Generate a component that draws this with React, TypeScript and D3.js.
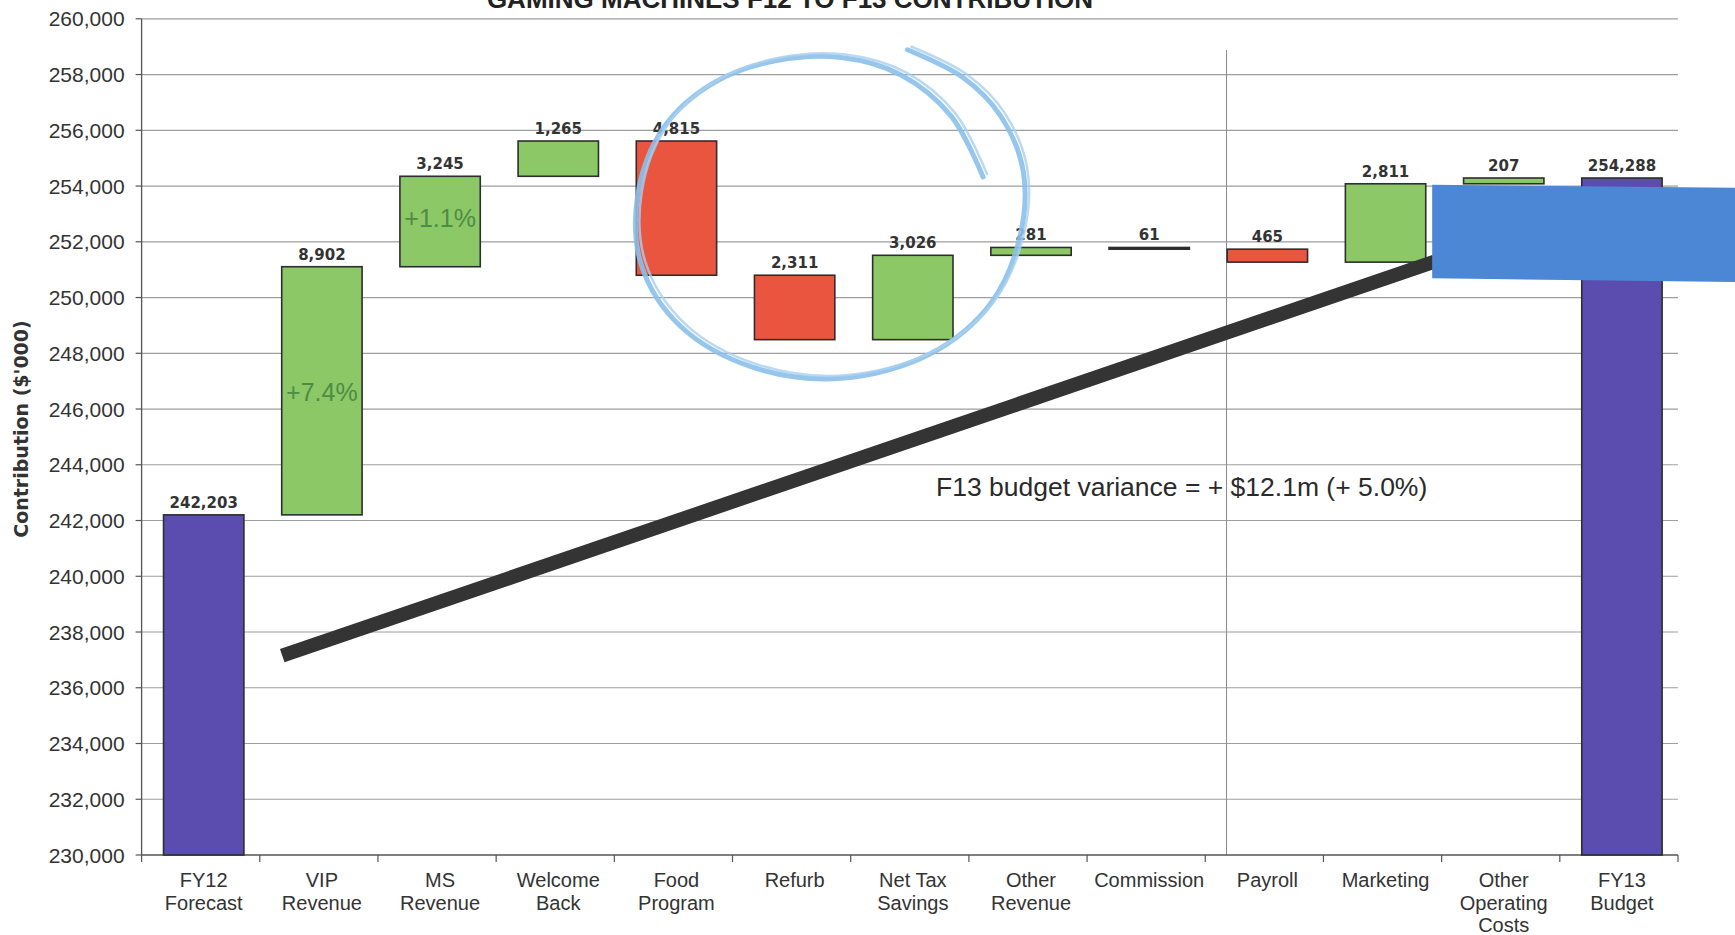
import { useMemo } from 'react';
import * as d3 from 'd3';

// Waterfall steps ($'000)
const CATEGORIES = [
  ['FY12', 'Forecast'],
  ['VIP', 'Revenue'],
  ['MS', 'Revenue'],
  ['Welcome', 'Back'],
  ['Food', 'Program'],
  ['Refurb'],
  ['Net Tax', 'Savings'],
  ['Other', 'Revenue'],
  ['Commission'],
  ['Payroll'],
  ['Marketing'],
  ['Other', 'Operating', 'Costs'],
  ['FY13', 'Budget'],
];
const STEP_VALUES = [242203, 8902, 3245, 1265, -4815, -2311, 3026, 281, -61, -465, 2811, 207, 254288];
const STEP_KINDS = ['total', 'delta', 'delta', 'delta', 'delta', 'delta', 'delta', 'delta', 'delta', 'delta', 'delta', 'delta', 'total'];
const Y_TICKS = d3.range(230000, 260001, 2000);

// Annotations, in chart units (t = category slots from the axis, value = $'000)
const PCT_NOTES = [
  { cat: 1, value: 246600, text: '+7.4%' },
  { cat: 2, value: 252870, text: '+1.1%' },
];
const VARIANCE_NOTE = { t: 8.8, value: 242880, text: 'F13 budget variance = + $12.1m (+ 5.0%)' };
const TREND_STROKE = [
  { t: 1.19, value: 237150 },
  { t: 10.94, value: 251290 },
];
const DIVIDER = { t: 9.18, from: 258880, to: 230000 };
const HIGHLIGHT = [
  { t: 10.92, value: 254045 },
  { t: 13.5, value: 253940 },
  { t: 13.5, value: 250560 },
  { t: 10.92, value: 250690 },
];
const CIRCLE_STROKE = [
  { t: 7.12, value: 254325 },
  { t: 6.85, value: 256508 },
  { t: 6.43, value: 257976 },
  { t: 5.92, value: 258611 },
  { t: 5.36, value: 258492 },
  { t: 4.84, value: 257698 },
  { t: 4.42, value: 256111 },
  { t: 4.2, value: 253730 },
  { t: 4.23, value: 251151 },
  { t: 4.56, value: 248968 },
  { t: 5.17, value: 247500 },
  { t: 5.92, value: 247103 },
  { t: 6.67, value: 247976 },
  { t: 7.18, value: 249762 },
  { t: 7.43, value: 252143 },
  { t: 7.46, value: 254524 },
  { t: 7.27, value: 256508 },
  { t: 6.95, value: 257897 },
  { t: 6.48, value: 258889 },
];

const WIDTH = 1735;
const HEIGHT = 935;
const margin = { top: 18.8, right: 57, bottom: 80, left: 141.6 };

const COLORS = {
  total: '#5b4db0',
  up: '#8cc866',
  down: '#e9553f',
  border: '#2e2e2e',
  grid: '#9e9e9e',
  text: '#333333',
};

export default function App() {
  const innerRight = WIDTH - margin.right;
  const innerBottom = HEIGHT - margin.bottom;

  const x = d3.scaleBand<number>()
    .domain(d3.range(CATEGORIES.length))
    .range([margin.left, innerRight])
    .paddingInner(0.32)
    .paddingOuter(0.16)
    .align(0.58);

  const slot = d3.scaleLinear().domain([0, CATEGORIES.length]).range([margin.left, innerRight]);

  const y = d3.scaleLinear().domain([230000, 260000]).range([innerBottom, margin.top]);
  const yMin = y.domain()[0];

  const bars = useMemo(() => {
    let running = 0;
    return STEP_VALUES.map((v, i) => {
      const kind = STEP_KINDS[i];
      let lo, hi;
      if (kind === 'total') {
        lo = yMin;
        hi = v;
        running = v;
      } else {
        const next = running + v;
        lo = Math.min(running, next);
        hi = Math.max(running, next);
        running = next;
      }
      const fill = kind === 'total' ? COLORS.total : v >= 0 ? COLORS.up : COLORS.down;
      return { i, lo, hi, fill, label: d3.format(',')(Math.abs(v)), commission: i === 8 };
    });
  }, [yMin]);

  const fmt = d3.format(',');

  const trendLine = d3.line<{ t: number; value: number }>()
    .x((d) => slot(d.t))
    .y((d) => y(d.value));

  const circleLine = d3.line<{ t: number; value: number }>()
    .x((d) => slot(d.t))
    .y((d) => y(d.value))
    .curve(d3.curveCatmullRom.alpha(0.5));

  const highlightPath = d3.line<{ t: number; value: number }>()
    .x((d) => slot(d.t))
    .y((d) => y(d.value))(HIGHLIGHT) + 'Z';

  const boundaries = d3.range(CATEGORIES.length + 1);

  return (
    <svg
      width={WIDTH}
      height={HEIGHT}
      style={{ position: 'absolute', left: 0, top: 0, display: 'block', background: '#fff' }}
      fontFamily="'Liberation Sans', Arial, sans-serif"
    >
      {/* title, clipped at the top of the scan */}
      <text x={790} y={8} textAnchor="middle" fontSize={26} fontWeight={700} fill="#222">
        GAMING MACHINES F12 TO F13 CONTRIBUTION
      </text>

      {/* gridlines */}
      {Y_TICKS.filter((d) => d > yMin).map((d) => (
        <line key={d} x1={margin.left} x2={innerRight} y1={y(d)} y2={y(d)} stroke={COLORS.grid} strokeWidth={1.2} />
      ))}

      {/* divider line */}
      <line
        x1={slot(DIVIDER.t)}
        x2={slot(DIVIDER.t)}
        y1={y(DIVIDER.from)}
        y2={y(DIVIDER.to)}
        stroke="#8a8a8a"
        strokeWidth={1}
      />

      {/* y axis */}
      <line x1={margin.left} x2={margin.left} y1={margin.top} y2={innerBottom} stroke="#555" strokeWidth={1.3} />
      {Y_TICKS.map((d) => (
        <g key={d}>
          <line x1={margin.left - 6} x2={margin.left} y1={y(d)} y2={y(d)} stroke="#555" strokeWidth={1.2} />
          <text x={margin.left - 17} y={y(d)} dy="0.36em" textAnchor="end" fontSize={21} fill={COLORS.text}>
            {fmt(d)}
          </text>
        </g>
      ))}
      <text
        transform={`translate(28, 429) rotate(-90)`}
        textAnchor="middle"
        fontSize={19}
        fontWeight={700}
        fontFamily="'DejaVu Sans', Verdana, sans-serif"
        fill={COLORS.text}
      >
        Contribution ($'000)
      </text>

      {/* x axis */}
      <line x1={margin.left} x2={innerRight} y1={innerBottom} y2={innerBottom} stroke="#555" strokeWidth={1.5} />
      {boundaries.map((b) => (
        <line key={b} x1={slot(b)} x2={slot(b)} y1={innerBottom} y2={innerBottom + 7} stroke="#555" strokeWidth={1.2} />
      ))}
      {CATEGORIES.map((lines, i) => (
        <text key={i} textAnchor="middle" fontSize={20} fill={COLORS.text}>
          {lines.map((ln, k) => (
            <tspan key={k} x={(x(i) ?? 0) + x.bandwidth() / 2} y={innerBottom + 32 + k * 22.5}>
              {ln}
            </tspan>
          ))}
        </text>
      ))}

      {/* bars */}
      {bars.map((b) => (
        <rect
          key={b.i}
          x={x(b.i)}
          y={y(b.hi)}
          width={x.bandwidth()}
          height={Math.max(y(b.lo) - y(b.hi), 0)}
          fill={b.commission ? '#222' : b.fill}
          stroke={COLORS.border}
          strokeWidth={1.6}
        />
      ))}

      {/* value labels */}
      {bars.map((b) => (
        <text
          key={b.i}
          x={(x(b.i) ?? 0) + x.bandwidth() / 2}
          y={y(b.hi) - 7}
          textAnchor="middle"
          fontSize={15}
          fontWeight={700}
          fontFamily="'DejaVu Sans', Verdana, sans-serif"
          fill={COLORS.text}
        >
          {b.label}
        </text>
      ))}

      {/* percentage notes inside the revenue bars */}
      {PCT_NOTES.map((n) => (
        <text
          key={n.text}
          x={(x(n.cat) ?? 0) + x.bandwidth() / 2}
          y={y(n.value)}
          dy="0.36em"
          textAnchor="middle"
          fontSize={25}
          fill="#4d8c45"
        >
          {n.text}
        </text>
      ))}

      {/* variance note */}
      <text
        x={slot(VARIANCE_NOTE.t)}
        y={y(VARIANCE_NOTE.value)}
        textAnchor="middle"
        fontSize={26.5}
        fill="#2a2a2a"
      >
        {VARIANCE_NOTE.text}
      </text>

      {/* hand annotations */}
      <path d={trendLine(TREND_STROKE) ?? ''} stroke="#343434" strokeWidth={14} fill="none" />
      <path d={highlightPath} fill="#4c87d6" />
      <path
        d={circleLine(CIRCLE_STROKE) ?? ''}
        stroke="#8cc0ea"
        strokeWidth={5}
        fill="none"
        strokeLinecap="round"
        opacity={0.9}
      />
      <path
        d={circleLine(CIRCLE_STROKE) ?? ''}
        transform="translate(4,-3)"
        stroke="#a9d0f0"
        strokeWidth={2.5}
        fill="none"
        strokeLinecap="round"
        opacity={0.8}
      />
    </svg>
  );
}
